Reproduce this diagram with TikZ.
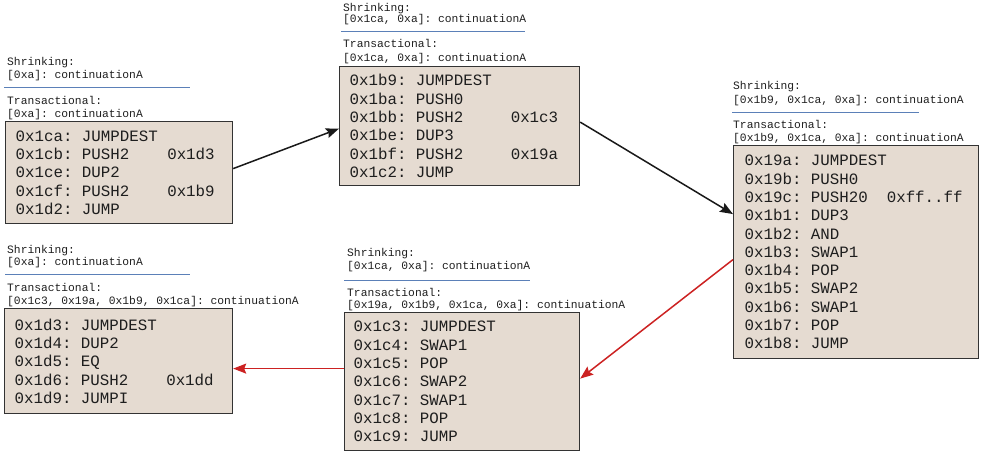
\documentclass[tikz,border=0pt]{standalone}
\usepackage{fontspec}
\setmonofont{Liberation Mono}
\usetikzlibrary{arrows.meta,calc}
\definecolor{boxfill}{HTML}{E5DBD1}
\definecolor{sepblue}{HTML}{5B80B8}
\definecolor{arrred}{HTML}{CC2222}
\definecolor{txt}{HTML}{1E1E1E}
\newcommand{\chsp}{\hphantom{0}}
\tikzset{
  codebox/.style={draw=black!80, line width=1.2pt, fill=boxfill, anchor=north west,
    inner xsep=0pt, inner ysep=0pt, align=left, text=txt,
    font=\ttfamily\fontsize{15.8}{18.3}\selectfont},
  hdr/.style={anchor=base west, inner sep=0pt, text=txt,
    font=\ttfamily\fontsize{11.3}{13}\selectfont},
  sep/.style={draw=sepblue, line width=0.9pt},
  blackarrow/.style={draw=black!90, line width=1.5pt, -{Stealth[length=13pt,width=10pt,inset=2pt]}},
  redarrow/.style={draw=arrred, line width=1.5pt, -{Stealth[length=13pt,width=10pt,inset=2pt]}}
}
\begin{document}
\begin{tikzpicture}[x=1pt,y=-1pt]
\useasboundingbox (0,0) rectangle (986,455);

% ---------- Box 1 ----------
\node[hdr] (h1a) at (7,65) {Shrinking:};
\node[hdr] (h1b) at (7,78.5) {[0xa]:\chsp continuationA};
\coordinate (l1a) at (4,87.3); \coordinate (l1b) at (190,87.3);
\draw[sep] (l1a) -- (l1b);
\node[hdr] (h1c) at (7,104.5) {Transactional:};
\node[hdr] (h1d) at (7,117.5) {[0xa]:\chsp continuationA};
\node[codebox, minimum width=227pt, minimum height=102pt, text width=207pt, inner xsep=10pt] (b1) at (5,121)
 {0x1ca:\chsp JUMPDEST\\0x1cb:\chsp PUSH2\chsp\chsp\chsp\chsp 0x1d3\\0x1ce:\chsp DUP2\\0x1cf:\chsp PUSH2\chsp\chsp\chsp\chsp 0x1b9\\0x1d2:\chsp JUMP};

% ---------- Box 2 ----------
\node[hdr] (h2a) at (343,11) {Shrinking:};
\node[hdr] (h2b) at (343,23) {[0x1ca,\chsp 0xa]:\chsp continuationA};
\coordinate (l2a) at (341,31); \coordinate (l2b) at (525,31);
\draw[sep] (l2a) -- (l2b);
\node[hdr] (h2c) at (343,47) {Transactional:};
\node[hdr] (h2d) at (343,61) {[0x1ca,\chsp 0xa]:\chsp continuationA};
\node[codebox, minimum width=240pt, minimum height=119pt, text width=220pt, inner xsep=10pt] (b2) at (339,66)
 {0x1b9:\chsp JUMPDEST\\0x1ba:\chsp PUSH0\\0x1bb:\chsp PUSH2\chsp\chsp\chsp\chsp\chsp 0x1c3\\0x1be:\chsp DUP3\\0x1bf:\chsp PUSH2\chsp\chsp\chsp\chsp\chsp 0x19a\\0x1c2:\chsp JUMP};

% ---------- Box 3 ----------
\node[hdr] (h3a) at (733,89.7) {Shrinking:};
\node[hdr] (h3b) at (733,103) {[0x1b9,\chsp 0x1ca,\chsp 0xa]:\chsp continuationA};
\coordinate (l3a) at (732,112.3); \coordinate (l3b) at (919,112.3);
\draw[sep] (l3a) -- (l3b);
\node[hdr] (h3c) at (733,128.3) {Transactional:};
\node[hdr] (h3d) at (733,141.7) {[0x1b9,\chsp 0x1ca,\chsp 0xa]:\chsp continuationA};
\node[codebox, minimum width=245pt, minimum height=213pt, text width=223pt, inner xsep=11pt] (b3) at (733,145)
 {0x19a:\chsp JUMPDEST\\0x19b:\chsp PUSH0\\0x19c:\chsp PUSH20\chsp\chsp 0xff..ff\\0x1b1:\chsp DUP3\\0x1b2:\chsp AND\\0x1b3:\chsp SWAP1\\0x1b4:\chsp POP\\0x1b5:\chsp SWAP2\\0x1b6:\chsp SWAP1\\0x1b7:\chsp POP\\0x1b8:\chsp JUMP};

% ---------- Box 4 ----------
\node[hdr] (h4a) at (7,253) {Shrinking:};
\node[hdr] (h4b) at (7,265.7) {[0xa]:\chsp continuationA};
\coordinate (l4a) at (5,274.3); \coordinate (l4b) at (190,274.3);
\draw[sep] (l4a) -- (l4b);
\node[hdr] (h4c) at (7,291.3) {Transactional:};
\node[hdr] (h4d) at (7,304) {[0x1c3,\chsp 0x19a,\chsp 0x1b9,\chsp 0x1ca]:\chsp continuationA};
\node[codebox, minimum width=228pt, minimum height=105pt, text width=208pt, inner xsep=10pt] (b4) at (4,308)
 {0x1d3:\chsp JUMPDEST\\0x1d4:\chsp DUP2\\0x1d5:\chsp EQ\\0x1d6:\chsp PUSH2\chsp\chsp\chsp\chsp 0x1dd\\0x1d9:\chsp JUMPI};

% ---------- Box 5 ----------
\node[hdr] (h5a) at (347,256.7) {Shrinking:};
\node[hdr] (h5b) at (347,269) {[0x1ca,\chsp 0xa]:\chsp continuationA};
\coordinate (l5a) at (344,280); \coordinate (l5b) at (530,280);
\draw[sep] (l5a) -- (l5b);
\node[hdr] (h5c) at (347,296.3) {Transactional:};
\node[hdr] (h5d) at (347,308.3) {[0x19a,\chsp 0x1b9,\chsp 0x1ca,\chsp 0xa]:\chsp continuationA};
\node[codebox, minimum width=235pt, minimum height=138pt, text width=217pt, inner xsep=9pt] (b5) at (344,312)
 {0x1c3:\chsp JUMPDEST\\0x1c4:\chsp SWAP1\\0x1c5:\chsp POP\\0x1c6:\chsp SWAP2\\0x1c7:\chsp SWAP1\\0x1c8:\chsp POP\\0x1c9:\chsp JUMP};

% ---------- Connectors ----------
\draw[blackarrow] ([yshift=4pt]b1.east) -- ([yshift=-2.5pt]b2.west);
\draw[blackarrow] ([yshift=4pt]b2.east) -- ([yshift=38pt]b3.west);
\draw[redarrow] ([yshift=-7.5pt]b3.west) -- ([yshift=3pt]b5.east);
\draw[redarrow] ([yshift=13pt]b5.west) -- ([yshift=13pt]b5.west -| b4.east);
\end{tikzpicture}
\end{document}
